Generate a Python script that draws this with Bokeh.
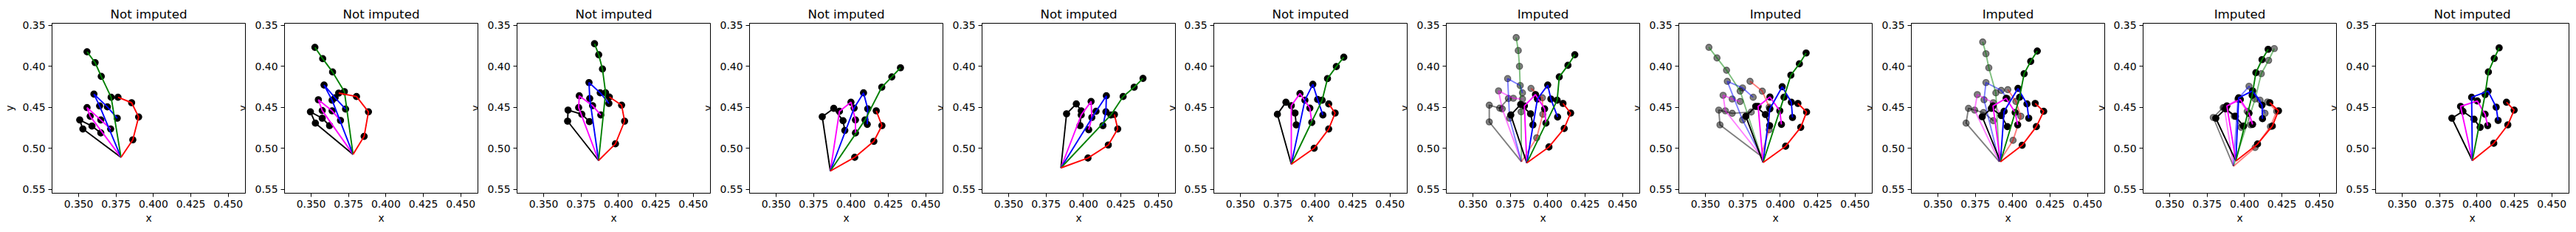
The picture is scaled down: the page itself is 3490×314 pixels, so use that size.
import math
from bokeh.plotting import figure
from bokeh.layouts import row
from bokeh.models import Range1d, FixedTicker, PrintfTickFormatter, Label
from bokeh.embed import file_html
from bokeh.resources import INLINE

# ---------------- data ----------------
TITLES = ["Not imputed", "Not imputed", "Not imputed", "Not imputed", "Not imputed",
          "Not imputed", "Imputed", "Imputed", "Imputed", "Imputed", "Not imputed"]
X_TICKS = [0.350, 0.375, 0.400, 0.425, 0.450]
Y_TICKS = [0.35, 0.40, 0.45, 0.50, 0.55]

# landmark order: 0 wrist, 1-4 thumb, 5-8 index, 9-12 middle, 13-16 ring, 17-20 pinky
X1 = [0.3783, 0.3862, 0.3901, 0.3854, 0.3763, 0.3717, 0.3651, 0.3610, 0.3556, 0.3640, 0.3602, 0.3692, 0.3758, 0.3577, 0.3556, 0.3648, 0.3714, 0.3528, 0.3507, 0.3589, 0.3648]
Y1 = [0.5108, 0.4895, 0.4617, 0.4443, 0.4377, 0.4377, 0.4123, 0.3955, 0.3823, 0.4482, 0.4338, 0.4494, 0.4632, 0.4608, 0.4503, 0.4653, 0.4763, 0.4763, 0.4653, 0.4728, 0.4811]
X2 = [0.3780, 0.3854, 0.3883, 0.3803, 0.3684, 0.3722, 0.3643, 0.3577, 0.3525, 0.3640, 0.3586, 0.3660, 0.3730, 0.3574, 0.3548, 0.3640, 0.3696, 0.3528, 0.3495, 0.3574, 0.3623]
Y2 = [0.5072, 0.4853, 0.4554, 0.4368, 0.4326, 0.4308, 0.4069, 0.3907, 0.3769, 0.4413, 0.4228, 0.4383, 0.4521, 0.4539, 0.4407, 0.4542, 0.4659, 0.4692, 0.4554, 0.4632, 0.4722]
X3 = [0.3867, 0.3980, 0.4041, 0.4021, 0.3939, 0.3914, 0.3893, 0.3868, 0.3840, 0.3808, 0.3803, 0.3878, 0.3936, 0.3734, 0.3738, 0.3827, 0.3882, 0.3660, 0.3663, 0.3755, 0.3806]
Y3 = [0.5147, 0.4943, 0.4668, 0.4473, 0.4374, 0.4323, 0.4033, 0.3859, 0.3725, 0.4392, 0.4198, 0.4323, 0.4452, 0.4503, 0.4359, 0.4479, 0.4593, 0.4668, 0.4533, 0.4584, 0.4674]
X4 = [0.3862, 0.4025, 0.4153, 0.4207, 0.4169, 0.4094, 0.4206, 0.4273, 0.4331, 0.4021, 0.4084, 0.4112, 0.4109, 0.3923, 0.4000, 0.4030, 0.4030, 0.3808, 0.3885, 0.3947, 0.3959]
Y4 = [0.5275, 0.5108, 0.4913, 0.4722, 0.4542, 0.4653, 0.4254, 0.4129, 0.4018, 0.4509, 0.4323, 0.4518, 0.4707, 0.4548, 0.4437, 0.4653, 0.4811, 0.4614, 0.4512, 0.4662, 0.4781]
X5 = [0.3849, 0.4030, 0.4166, 0.4229, 0.4207, 0.4183, 0.4265, 0.4339, 0.4398, 0.4084, 0.4153, 0.4150, 0.4130, 0.3985, 0.4051, 0.4056, 0.4035, 0.3887, 0.3952, 0.3985, 0.3977]
Y5 = [0.5237, 0.5117, 0.4958, 0.4763, 0.4587, 0.4593, 0.4368, 0.4254, 0.4147, 0.4548, 0.4359, 0.4554, 0.4722, 0.4593, 0.4428, 0.4623, 0.4772, 0.4578, 0.4458, 0.4542, 0.4722]
X6 = [0.3840, 0.3993, 0.4090, 0.4133, 0.4090, 0.4046, 0.4082, 0.4141, 0.4191, 0.3931, 0.3984, 0.4016, 0.4051, 0.3840, 0.3898, 0.3964, 0.3977, 0.3747, 0.3804, 0.3865, 0.3873]
Y6 = [0.5192, 0.4997, 0.4763, 0.4569, 0.4458, 0.4413, 0.4150, 0.4003, 0.3889, 0.4413, 0.4219, 0.4404, 0.4593, 0.4479, 0.4332, 0.4509, 0.4683, 0.4584, 0.4437, 0.4569, 0.4713]
X7 = [0.3860, 0.4008, 0.4110, 0.4153, 0.4102, 0.4063, 0.4077, 0.4135, 0.4181, 0.3931, 0.4000, 0.4021, 0.4066, 0.3844, 0.3918, 0.3979, 0.3988, 0.3753, 0.3819, 0.3885, 0.3901]
Y7 = [0.5177, 0.4982, 0.4757, 0.4569, 0.4452, 0.4413, 0.4129, 0.3988, 0.3859, 0.4398, 0.4228, 0.4398, 0.4617, 0.4482, 0.4344, 0.4518, 0.4692, 0.4593, 0.4464, 0.4578, 0.4713]
X7_IMP = [0.3824, 0.3926, 0.3967, 0.3964, 0.3888, 0.3822, 0.3811, 0.3803, 0.3789, 0.3745, 0.3732, 0.3816, 0.3831, 0.3696, 0.3671, 0.3770, 0.3831, 0.3609, 0.3609, 0.3679, 0.3737]
Y7_IMP = [0.5162, 0.4871, 0.4584, 0.4383, 0.4269, 0.4554, 0.4000, 0.3808, 0.3650, 0.4632, 0.4150, 0.4234, 0.4323, 0.4518, 0.4299, 0.4389, 0.4398, 0.4677, 0.4473, 0.4509, 0.4392]
X8 = [0.3885, 0.4036, 0.4137, 0.4176, 0.4118, 0.4025, 0.4071, 0.4128, 0.4173, 0.3931, 0.4013, 0.4074, 0.4082, 0.3852, 0.3931, 0.3997, 0.4008, 0.3770, 0.3836, 0.3901, 0.3929]
Y8 = [0.5171, 0.4973, 0.4743, 0.4557, 0.4452, 0.4377, 0.4108, 0.3970, 0.3838, 0.4518, 0.4249, 0.4437, 0.4623, 0.4488, 0.4374, 0.4542, 0.4707, 0.4608, 0.4488, 0.4587, 0.4722]
X8_IMP = [0.3872, 0.3926, 0.3926, 0.3880, 0.3798, 0.3732, 0.3641, 0.3577, 0.3523, 0.3748, 0.3646, 0.3748, 0.3819, 0.3633, 0.3618, 0.3679, 0.3732, 0.3597, 0.3589, 0.3679, 0.3806]
Y8_IMP = [0.5093, 0.4772, 0.4497, 0.4302, 0.4183, 0.4302, 0.4048, 0.3898, 0.3769, 0.4653, 0.4183, 0.4263, 0.4377, 0.4542, 0.4353, 0.4398, 0.4428, 0.4713, 0.4533, 0.4572, 0.4557]
X9 = [0.3918, 0.4063, 0.4158, 0.4207, 0.4150, 0.4046, 0.4076, 0.4120, 0.4164, 0.3942, 0.4035, 0.4095, 0.4107, 0.3868, 0.3956, 0.4016, 0.4033, 0.3796, 0.3857, 0.3923, 0.3964]
Y9 = [0.5162, 0.4961, 0.4734, 0.4548, 0.4452, 0.4377, 0.4090, 0.3940, 0.3814, 0.4548, 0.4269, 0.4458, 0.4632, 0.4482, 0.4389, 0.4563, 0.4713, 0.4614, 0.4512, 0.4599, 0.4734]
X9_IMP = [0.3910, 0.4002, 0.4054, 0.4021, 0.3967, 0.3887, 0.3840, 0.3821, 0.3799, 0.3808, 0.3821, 0.3923, 0.3964, 0.3745, 0.3763, 0.3870, 0.3923, 0.3688, 0.3704, 0.3804, 0.3870]
Y9_IMP = [0.5162, 0.4901, 0.4608, 0.4428, 0.4284, 0.4323, 0.4018, 0.3847, 0.3704, 0.4407, 0.4198, 0.4293, 0.4392, 0.4533, 0.4344, 0.4443, 0.4599, 0.4692, 0.4512, 0.4563, 0.4662]
X10 = [0.3942, 0.4087, 0.4186, 0.4227, 0.4169, 0.4051, 0.4076, 0.4117, 0.4158, 0.3961, 0.4054, 0.4117, 0.4120, 0.3882, 0.3972, 0.4030, 0.4054, 0.3808, 0.3873, 0.3939, 0.3993]
Y10 = [0.5153, 0.4946, 0.4728, 0.4542, 0.4443, 0.4353, 0.4078, 0.3919, 0.3793, 0.4383, 0.4299, 0.4473, 0.4638, 0.4482, 0.4404, 0.4572, 0.4707, 0.4632, 0.4518, 0.4608, 0.4728]
X10_IMP = [0.3926, 0.4071, 0.4173, 0.4215, 0.4153, 0.4071, 0.4112, 0.4161, 0.4199, 0.3956, 0.4030, 0.4104, 0.4137, 0.3865, 0.3959, 0.4018, 0.4041, 0.3791, 0.3857, 0.3931, 0.3977]
Y10_IMP = [0.5216, 0.4988, 0.4734, 0.4548, 0.4434, 0.4398, 0.4090, 0.3928, 0.3784, 0.4398, 0.4243, 0.4413, 0.4572, 0.4503, 0.4398, 0.4548, 0.4713, 0.4623, 0.4503, 0.4608, 0.4743]
X11 = [0.3969, 0.4112, 0.4206, 0.4248, 0.4197, 0.4054, 0.4076, 0.4115, 0.4148, 0.3964, 0.4074, 0.4128, 0.4141, 0.3890, 0.4002, 0.4054, 0.4071, 0.3832, 0.3906, 0.3980, 0.4021]
Y11 = [0.5147, 0.4937, 0.4713, 0.4533, 0.4437, 0.4344, 0.4069, 0.3904, 0.3775, 0.4377, 0.4302, 0.4497, 0.4659, 0.4488, 0.4422, 0.4584, 0.4722, 0.4632, 0.4548, 0.4644, 0.4743]

# per panel: list of (x, y, is_imputed_overlay)
PANELS = [
    [(X1, Y1, False)],
    [(X2, Y2, False)],
    [(X3, Y3, False)],
    [(X4, Y4, False)],
    [(X5, Y5, False)],
    [(X6, Y6, False)],
    [(X7_IMP, Y7_IMP, True), (X7, Y7, False)],
    [(X8_IMP, Y8_IMP, True), (X8, Y8, False)],
    [(X9_IMP, Y9_IMP, True), (X9, Y9, False)],
    [(X10_IMP, Y10_IMP, True), (X10, Y10, False)],
    [(X11, Y11, False)],
]

FINGERS = [
    ("#000000", [0, 17, 18, 19, 20]),
    ("#ff00ff", [0, 13, 14, 15, 16]),
    ("#0000ff", [0, 9, 10, 11, 12]),
    ("#008000", [0, 5, 6, 7, 8]),
    ("#ff0000", [0, 1, 2, 3, 4]),
]

# ---------------- layout ----------------
XMIN, XMAX = 0.3322, 0.46148
YTOP, YBOT = 0.3476, 0.5545
FW, FH = 262, 230
PX = FW / (XMAX - XMIN)
FONT = "DejaVu Sans"
BORDER_R = 5
BORDER_T = 31
BORDER_B = 44
LEFTS = [70, 48, 48, 48, 48, 47, 48, 48, 48, 47, 48]

figs = []
for i, (title, hands) in enumerate(zip(TITLES, PANELS)):
    br = BORDER_R if i < len(TITLES) - 1 else 2
    bl = LEFTS[i]
    p = figure(width=bl + FW + br, height=BORDER_T + FH + BORDER_B,
               x_range=Range1d(XMIN, XMAX), y_range=Range1d(YBOT, YTOP),
               output_backend="svg", toolbar_location=None,
               min_border_left=bl, min_border_right=br,
               min_border_top=BORDER_T, min_border_bottom=BORDER_B,
               title=title)
    p.title.align = "center"
    p.title.text_font = FONT
    p.title.text_font_size = "16.7px"
    p.title.text_font_style = "normal"
    p.title.text_color = "black"
    p.title.standoff = 6
    p.background_fill_color = "white"
    p.border_fill_color = "white"
    p.outline_line_color = "black"
    p.outline_line_alpha = 1.0
    p.outline_line_width = 1
    p.xgrid.visible = False
    p.ygrid.visible = False

    for ax in (p.xaxis[0], p.yaxis[0]):
        ax.axis_line_color = "black"
        ax.major_tick_line_color = "black"
        ax.major_tick_in = 0
        ax.major_tick_out = 5
        ax.minor_tick_line_color = None
        ax.major_label_text_font = FONT
        ax.major_label_text_font_size = "13.9px"
        ax.major_label_text_color = "black"
        ax.major_label_standoff = 4
        ax.axis_label_text_font = FONT
        ax.axis_label_text_font_size = "13.9px"
        ax.axis_label_text_font_style = "normal"
        ax.axis_label_text_color = "black"
    p.xaxis.ticker = FixedTicker(ticks=X_TICKS)
    p.xaxis.formatter = PrintfTickFormatter(format="%.3f")
    p.yaxis.ticker = FixedTicker(ticks=Y_TICKS)
    p.yaxis.formatter = PrintfTickFormatter(format="%.2f")
    p.xaxis.axis_label = "x"
    p.xaxis.axis_label_standoff = 3
    if i == 0:
        p.yaxis.axis_label = "y"
        p.yaxis.axis_label_standoff = 7

    for xs, ys, imp in hands:
        a = 0.5 if imp else 1.0
        p.scatter(xs[1:], ys[1:], marker="circle", size=8.5, fill_color="black",
                  line_color="black", fill_alpha=a, line_alpha=a, line_width=1.2)
        for color, idx in FINGERS:
            p.line([xs[j] for j in idx], [ys[j] for j in idx],
                   line_color=color, line_width=1.9, line_alpha=a)
    figs.append(p)

# y-axis labels of panels 2..11 sit ~56 px left of their frame, i.e. on the
# right spine of the neighbouring panel, as in the original figure
ymid = (YTOP + YBOT) / 2
for i in range(1, len(figs)):
    pitch = FW + BORDER_R + LEFTS[i]
    figs[i - 1].add_layout(Label(x=XMIN + (pitch - 56.5) / PX, y=ymid, text="y",
                                 angle=math.pi / 2, text_align="center",
                                 text_baseline="middle", text_font=FONT,
                                 text_font_size="13.9px", text_color="black"))

layout = row(*figs, spacing=0)
open("out.html", "w").write(file_html(layout, INLINE))
